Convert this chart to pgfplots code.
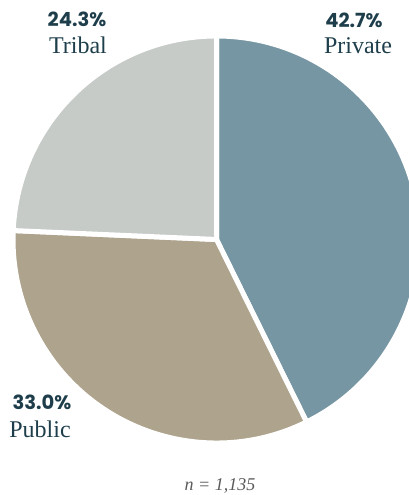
\documentclass[border=0pt]{standalone}
\usepackage{pgfplots}
\pgfplotsset{compat=1.18}
\usepackage{fontspec}
\setmainfont{Liberation Serif}
\newfontfamily\pctfont{Poppins}
\definecolor{cPrivate}{HTML}{7796A3}
\definecolor{cPublic}{HTML}{AEA48D}
\definecolor{cTribal}{HTML}{C6CBC8}
\definecolor{ctext}{HTML}{1E3E4B}
\definecolor{cnote}{HTML}{5A5A5A}
\begin{document}
\begin{tikzpicture}
\begin{axis}[
  scale only axis, width=409bp, height=495bp,
  xmin=0, xmax=409, ymin=0, ymax=495,
  hide axis, clip=true,
]
% shares (percent): Private 42.7, Public 33.0, Tribal 24.3
\filldraw[fill=cPrivate, draw=white, line width=5bp, line join=round]
  (axis cs:216.5,255.5) -- ++(90:203.5bp) arc[start angle=90, delta angle={-42.7*3.6}, radius=203.5bp] -- cycle;
\filldraw[fill=cPublic, draw=white, line width=5bp, line join=round]
  (axis cs:216.5,255.5) -- ++({90-42.7*3.6}:203.5bp) arc[start angle={90-42.7*3.6}, delta angle={-33.0*3.6}, radius=203.5bp] -- cycle;
\filldraw[fill=cTribal, draw=white, line width=5bp, line join=round]
  (axis cs:216.5,255.5) -- ++({90-75.7*3.6}:203.5bp) arc[start angle={90-75.7*3.6}, delta angle={-24.3*3.6}, radius=203.5bp] -- cycle;

\node[anchor=base, text=ctext, font=\pctfont\bfseries\fontsize{19.5bp}{22bp}\selectfont] at (axis cs:77,468) {24.3\%};
\node[anchor=base, text=ctext, font=\fontsize{24bp}{27bp}\selectfont] at (axis cs:78,441) {Tribal};
\node[anchor=base, text=ctext, font=\pctfont\bfseries\fontsize{19.5bp}{22bp}\selectfont] at (axis cs:354,467.5) {42.7\%};
\node[anchor=base, text=ctext, font=\fontsize{24bp}{27bp}\selectfont] at (axis cs:358,441) {Private};
\node[anchor=base, text=ctext, font=\pctfont\bfseries\fontsize{19.5bp}{22bp}\selectfont] at (axis cs:42,85) {33.0\%};
\node[anchor=base, text=ctext, font=\fontsize{24bp}{27bp}\selectfont] at (axis cs:40,57) {Public};
\node[anchor=base, text=cnote, font=\itshape\fontsize{18bp}{21bp}\selectfont] at (axis cs:220,5) {n = 1,135};
\end{axis}
\pgfresetboundingbox
\useasboundingbox (current axis.south west) rectangle (current axis.north east);
\end{tikzpicture}
\end{document}
